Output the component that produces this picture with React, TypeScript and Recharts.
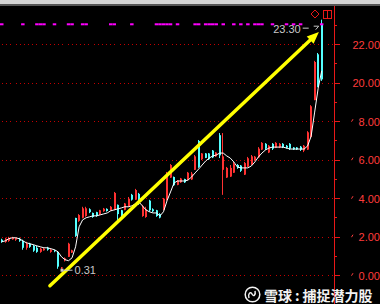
import React from "react";
import {
  Bar,
  CartesianGrid,
  ComposedChart,
  Line,
  ReferenceDot,
  ReferenceLine,
  Scatter,
  XAxis,
  YAxis,
} from "recharts";

// Daily bars, in the units printed on the price axis.
// The axis is cut between 10 and 20, so 0–9.99 and 20+ are both shown.
const opens = [
  1.87, 1.76, 1.81, 1.89, 1.87, 1.92, 1.81, 1.45, 1.66, 1.55,
  1.45, 1.24, 1.32, 1.45, 1.24, 1.32, 1.24, 0.38, 0.8, 0.98,
  1.2, 3.0, 2.85, 3.01, 3.1, 3.45, 3.26, 3.3, 3.18, 3.35,
  3.47, 3.4, 3.42, 3.68, 3.4, 3.42, 3.6, 4.2, 3.95, 4.25,
  3.1, 3.05, 3.9, 3.45, 3.4, 3.2, 3.42, 3.94, 5.1, 5.13,
  4.72, 4.85, 5.02, 4.97, 5.0, 5.5, 7.0, 6.05, 6.35, 6.35,
  6.5, 6.2, 7.3, 5.5, 5.1, 5.15, 5.35, 5.75, 5.72, 5.25,
  5.66, 5.8, 6.0, 6.15, 6.55, 6.85, 6.4, 6.85, 6.65, 6.68,
  6.85, 6.75, 6.85, 6.66, 6.66, 6.7, 6.5, 6.55, 7.2, 9.12,
  21.5, 23.07,
];
const highs = [
  1.92, 1.97, 2.02, 2.02, 1.97, 1.97, 1.87, 1.76, 1.71, 1.61,
  1.55, 1.45, 1.45, 1.5, 1.4, 1.35, 1.27, 0.45, 0.95, 1.71,
  1.35, 3.01, 3.2, 3.58, 3.58, 3.5, 3.28, 3.32, 3.42, 3.52,
  3.5, 3.62, 4.35, 3.7, 3.42, 3.78, 4.09, 4.25, 4.51, 4.3,
  3.68, 3.58, 3.94, 3.5, 3.42, 3.25, 4.04, 5.39, 5.8, 5.15,
  4.97, 5.08, 5.04, 5.39, 5.39, 6.27, 7.05, 6.37, 6.37, 6.37,
  6.53, 6.42, 7.41, 7.41, 5.65, 5.75, 5.91, 5.8, 5.75, 5.91,
  6.17, 6.27, 6.22, 6.68, 6.94, 6.89, 6.79, 6.89, 6.94, 6.89,
  6.89, 6.79, 6.89, 6.68, 6.68, 6.74, 6.79, 7.51, 8.86, 21.16,
  21.57, 23.3,
];
const lows = [
  1.71, 1.71, 1.76, 1.87, 1.81, 1.76, 1.35, 1.35, 1.45, 1.24,
  1.19, 1.19, 1.3, 1.3, 1.19, 1.22, 0.36, 0.31, 0.74, 0.98,
  1.18, 2.02, 2.8, 2.98, 3.06, 3.25, 3.01, 3.06, 3.16, 3.32,
  3.33, 3.38, 3.4, 2.9, 3.01, 3.4, 3.58, 3.9, 3.94, 3.68,
  3.06, 3.01, 3.32, 3.3, 3.06, 2.98, 3.4, 3.9, 5.08, 4.66,
  4.7, 4.82, 4.82, 4.95, 4.97, 5.49, 5.6, 6.01, 6.11, 6.01,
  6.11, 6.17, 6.11, 4.2, 5.08, 5.13, 5.34, 5.55, 5.39, 5.23,
  5.65, 5.75, 5.98, 6.11, 6.53, 6.53, 6.37, 6.53, 6.63, 6.63,
  6.63, 6.6, 6.53, 6.53, 6.53, 6.48, 6.42, 6.53, 7.2, 9.12,
  9.79, 20.12,
];
const closes = [
  1.76, 1.92, 1.97, 1.97, 1.95, 1.81, 1.45, 1.66, 1.5, 1.3,
  1.24, 1.4, 1.4, 1.35, 1.35, 1.27, 0.47, 0.43, 0.9, 1.66,
  1.32, 2.07, 3.15, 3.5, 3.5, 3.3, 3.05, 3.1, 3.4, 3.48,
  3.36, 3.58, 4.3, 3.2, 3.1, 3.75, 4.0, 3.95, 4.45, 3.75,
  3.6, 3.45, 3.4, 3.35, 3.1, 3.02, 4.0, 5.3, 5.75, 4.7,
  4.95, 5.05, 4.85, 5.35, 5.3, 6.2, 5.65, 6.35, 6.12, 6.05,
  6.15, 6.4, 6.25, 6.2, 5.6, 5.6, 5.8, 5.6, 5.45, 5.85,
  6.1, 6.2, 6.18, 6.6, 6.9, 6.6, 6.75, 6.6, 6.9, 6.85,
  6.68, 6.65, 6.6, 6.56, 6.56, 6.55, 6.75, 7.45, 8.8, 21.1,
  9.85, 20.2,
];
const ma = [
  1.76, 1.81, 1.92, 1.97, 1.97, 1.92, 1.81, 1.71, 1.66, 1.61,
  1.55, 1.5, 1.45, 1.45, 1.4, 1.35, 1.24, 0.98, 0.83, 0.78,
  0.93, 1.5, 2.54, 2.9, 3.01, 3.06, 3.11, 3.11, 3.16, 3.21,
  3.26, 3.37, 3.42, 3.47, 3.52, 3.58, 3.58, 3.63, 3.73, 3.83,
  3.63, 3.42, 3.32, 3.26, 3.26, 3.11, 3.32, 3.89, 4.35, 4.82,
  4.92, 4.92, 4.92, 4.97, 5.13, 5.34, 5.54, 5.75, 5.96, 6.11,
  6.22, 6.27, 6.37, 6.37, 6.22, 6.11, 5.91, 5.65, 5.6, 5.6,
  5.6, 5.7, 5.91, 6.17, 6.37, 6.53, 6.63, 6.68, 6.68, 6.68,
  6.68, 6.63, 6.58, 6.58, 6.58, 6.58, 6.58, 6.74, 7.25, 8.5,
  9.74, 20.64,
];

// days flagged by the signal strip along the top
const signalDays = [
  0, 6, 10, 11, 12, 15, 19, 20, 23, 24, 31, 32, 37, 44, 45, 46, 47, 48, 50,
  55, 56, 58, 59, 60, 61, 63, 66, 68, 70, 72, 73, 74, 77, 81, 83, 85, 91,
];
const signalLevel = 23.06;

// hand-drawn trend arrow, from the bottom to the top of the run
const trendArrow = [
  { day: 13.7, price: -0.52 },
  { day: 90.2, price: 22.66 },
];

const BREAK_LOW = 10;
const BREAK_HIGH = 20;
const toPlot = (v: number) => (v < BREAK_LOW ? v + (BREAK_HIGH - BREAK_LOW) : v);
const fromPlot = (p: number) => (p < BREAK_HIGH ? p - (BREAK_HIGH - BREAK_LOW) : p);

const axisTicks = [9, 10, 11, 12, 13, 14, 15, 16, 17, 18, 19, 20, 21, 22, 23];
const gridTicks = [10, 12, 14, 16, 18, 20, 22];

const rows = opens.map((open, i) => ({
  day: i,
  open,
  high: highs[i],
  low: lows[i],
  close: closes[i],
  ma: ma[i],
}));
const signals = signalDays.map((day) => ({ day, level: toPlot(signalLevel) }));

const maxHigh = Math.max(...highs);
const minLow = Math.min(...lows);
const maxDay = highs.indexOf(maxHigh);
const minDay = lows.indexOf(minLow);

const UP = "#ff3232";
const DOWN = "#54ffff";
const AXIS_RED = "#e81818";
const LABEL_RED = "#ff3c3c";
const GRID_RED = "#c40000";
const MARK_GRAY = "#c8c8c8";
const FONT = "'Liberation Sans', Arial, sans-serif";

function Candle(props: any) {
  const { x, y, width, height, payload } = props;
  const hi = toPlot(payload.high);
  const lo = toPlot(payload.low);
  const po = toPlot(payload.open);
  const pc = toPlot(payload.close);
  const k = hi > lo ? height / (hi - lo) : 0;
  const py = (v: number) => y + (hi - v) * k;
  const cx = Math.floor(x + width / 2);
  const color = pc >= po ? UP : DOWN;
  const top = py(Math.max(po, pc));
  const bottom = py(Math.min(po, pc));
  return (
    <g>
      <rect x={cx} y={y} width={1} height={Math.max(1, height)} fill={color} />
      <rect x={cx} y={top} width={2} height={Math.max(1, bottom - top)} fill={color} />
    </g>
  );
}

function PriceTick(props: any) {
  const { x, y, payload } = props;
  const v = payload.value;
  const major = v % 2 === 0;
  return (
    <g>
      <line x1={x} x2={x + (major ? 6 : 3)} y1={y} y2={y} stroke={AXIS_RED} shapeRendering="crispEdges" />
      {major && v < BREAK_HIGH && (
        <line x1={x + 17.5} y1={y} x2={x + 19} y2={y - 2.5} stroke={LABEL_RED} />
      )}
      {major && (
        <text x={x + 46} y={y + 4} textAnchor="end" fill={LABEL_RED} fontSize={11} fontFamily={FONT}>
          {fromPlot(v).toFixed(2)}
        </text>
      )}
    </g>
  );
}

function SignalMark(props: any) {
  const { cx, cy } = props;
  return <rect x={cx - 1.75} y={cy - 1} width={3.5} height={2} fill="#ff00ff" />;
}

function TrendArrow(props: any) {
  const { x1, y1, x2, y2 } = props;
  const len = Math.hypot(x2 - x1, y2 - y1);
  const ux = (x2 - x1) / len;
  const uy = (y2 - y1) / len;
  const head = 12;
  const half = 5;
  const bx = x2 - ux * head;
  const by = y2 - uy * head;
  const pts = `${x2},${y2} ${bx - uy * half},${by + ux * half} ${bx + uy * half},${by - ux * half}`;
  return (
    <g>
      <line x1={x1} y1={y1} x2={bx + ux * 2} y2={by + uy * 2} stroke="#ffff00" strokeWidth={3.5} strokeLinecap="round" />
      <polygon points={pts} fill="#ffff00" />
    </g>
  );
}

function HighMark(props: any) {
  const { cx, cy } = props;
  return (
    <g>
      <text x={cx - 21} y={cy + 13} textAnchor="end" fill={MARK_GRAY} fontSize={11} fontFamily={FONT}>
        {maxHigh.toFixed(2)}
      </text>
      <line x1={cx - 19} x2={cx - 13} y1={cy + 8.5} y2={cy + 8.5} stroke={MARK_GRAY} />
      <polyline points={`${cx - 8},${cy + 6.5} ${cx - 3},${cy + 6.5} ${cx - 6},${cy + 10}`} fill="none" stroke={MARK_GRAY} />
    </g>
  );
}

function LowMark(props: any) {
  const { cx, cy } = props;
  return (
    <g>
      <rect x={cx - 1} y={cy - 1} width={3} height={3} fill={MARK_GRAY} />
      <line x1={cx + 2} x2={cx + 11} y1={cy + 0.5} y2={cy + 0.5} stroke={MARK_GRAY} />
      <text x={cx + 13} y={cy + 4.5} fill={MARK_GRAY} fontSize={11} fontFamily={FONT}>
        {minLow.toFixed(2)}
      </text>
    </g>
  );
}

function WindowTop() {
  return (
    <>
      <div style={{ position: "absolute", left: 0, top: 0, width: 380, height: 4, background: "#d4d4d4" }} />
      <div style={{ position: "absolute", left: 0, top: 4, width: 380, height: 2, background: "#555" }} />
      <svg style={{ position: "absolute", left: 0, top: 0 }} width={380} height={30}>
        <polygon points="315,10 319,14 315,18 311,14" fill="none" stroke={AXIS_RED} />
        <rect x={323.5} y={10.5} width={8} height={8} fill="none" stroke={AXIS_RED} />
        <line x1={327.5} y1={10.5} x2={327.5} y2={18.5} stroke={AXIS_RED} />
      </svg>
    </>
  );
}

function Watermark() {
  return (
    <div
      style={{
        position: "absolute",
        left: 244,
        top: 286,
        display: "flex",
        alignItems: "center",
        color: "#f2f2f2",
        fontFamily: "'Noto Sans CJK SC', sans-serif",
        fontWeight: 700,
        fontSize: 14,
        lineHeight: "16px",
        whiteSpace: "nowrap",
      }}
    >
      <svg width={17} height={17} style={{ marginRight: 3 }}>
        <circle cx={8.5} cy={8.5} r={7.3} fill="none" stroke="#f2f2f2" strokeWidth={1.5} />
        <path d="M5 12 C3.5 8 6.5 5 8 8 S12 9 11 5" fill="none" stroke="#f2f2f2" strokeWidth={1.5} />
      </svg>
      <span>雪球</span>
      <span style={{ margin: "0 3px" }}>:</span>
      <span>捕捉潜力股</span>
    </div>
  );
}

export default function App() {
  return (
    <div
      style={{
        position: "fixed",
        left: 0,
        top: 0,
        width: 380,
        height: 304,
        background: "#000",
        overflow: "hidden",
      }}
    >
      <ComposedChart width={380} height={304} data={rows} margin={{ top: 6, right: 0, bottom: 0, left: 0 }}>
        <CartesianGrid
          horizontal
          vertical={false}
          horizontalValues={gridTicks}
          stroke={GRID_RED}
          strokeDasharray="1 3 1 3 1 3 1 3 1 3 1 5"
          strokeDashoffset={10}
          shapeRendering="crispEdges"
        />
        <XAxis dataKey="day" type="number" domain={[-0.5, 94.5]} hide allowDataOverflow />
        <YAxis
          orientation="right"
          width={46}
          type="number"
          domain={[8.53, 24.01]}
          allowDataOverflow
          ticks={axisTicks}
          interval={0}
          tickSize={0}
          tickMargin={0}
          tickLine={false}
          axisLine={{ stroke: AXIS_RED, shapeRendering: "crispEdges" }}
          tick={<PriceTick />}
        />
        <Bar
          dataKey={(d: any) => [toPlot(d.low), toPlot(d.high)]}
          barSize={3}
          shape={<Candle />}
          isAnimationActive={false}
        />
        <Line
          dataKey={(d: any) => toPlot(d.ma)}
          stroke="#ffffff"
          strokeWidth={1}
          dot={false}
          type="linear"
          isAnimationActive={false}
        />
        <Scatter data={signals} dataKey="level" shape={<SignalMark />} isAnimationActive={false} />
        <ReferenceLine
          segment={trendArrow.map((p) => ({ x: p.day, y: toPlot(p.price) }))}
          shape={<TrendArrow />}
        />
        <ReferenceDot x={maxDay} y={toPlot(maxHigh)} shape={<HighMark />} />
        <ReferenceDot x={minDay} y={toPlot(minLow)} shape={<LowMark />} />
      </ComposedChart>
      <WindowTop />
      <Watermark />
    </div>
  );
}
